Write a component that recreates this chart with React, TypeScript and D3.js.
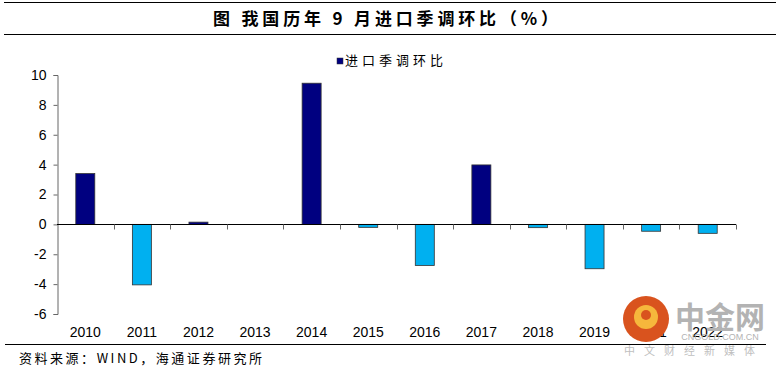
import React, { useEffect, useRef } from "react";
import * as d3 from "d3";

const years = ["2010", "2011", "2012", "2013", "2014", "2015", "2016", "2017", "2018", "2019", "2021", "2022"];
const importMoM = [3.4, -4.05, 0.15, 0, 9.45, -0.2, -2.75, 3.98, -0.22, -2.97, -0.46, -0.6];
const yTicks = [-6, -4, -2, 0, 2, 4, 6, 8, 10];

const cjk = "'Noto Sans CJK SC', sans-serif";
const latin = "'Liberation Sans', Arial, sans-serif";

export default function App() {
  const ref = useRef<SVGSVGElement>(null);

  useEffect(() => {
    const svg = d3.select(ref.current);
    svg.selectAll("*").remove();

    const left = 57, right = 736, top = 75, bottom = 314;

    // header rules and title
    svg.append("line").attr("x1", 4).attr("x2", 776).attr("y1", 2.5).attr("y2", 2.5)
      .attr("stroke", "#000").attr("stroke-width", 1);
    svg.append("line").attr("x1", 4).attr("x2", 776).attr("y1", 34.5).attr("y2", 34.5)
      .attr("stroke", "#000").attr("stroke-width", 1);
    svg.append("text").attr("x", 213).attr("y", 25)
      .attr("textLength", 345).attr("lengthAdjust", "spacing")
      .style("font-family", cjk).style("font-size", "17px").style("font-weight", "bold")
      .text("图 我国历年 9 月进口季调环比（%）");

    const x = d3.scaleBand().domain(years).range([left, right]).paddingInner(0).paddingOuter(0);
    const y = d3.scaleLinear().domain([-6, 10]).range([bottom, top]);
    const barW = 19;

    // bars
    svg.append("g").selectAll("rect").data(importMoM).enter().append("rect")
      .attr("x", (d, i) => x(years[i])! + x.bandwidth() / 2 - barW / 2)
      .attr("y", (d) => y(Math.max(d, 0)))
      .attr("width", barW)
      .attr("height", (d) => Math.abs(y(d) - y(0)))
      .attr("fill", (d) => (d >= 0 ? "#000080" : "#00B0F0"))
      .attr("stroke", (d) => (d === 0 ? "none" : "#333"))
      .attr("stroke-width", 0.8);

    // y axis
    const yAxis = svg.append("g").attr("transform", `translate(${left + 0.5},0)`)
      .call(d3.axisLeft(y).tickValues(yTicks).tickSize(4).tickPadding(7)
        .tickFormat((d) => String(d)));
    yAxis.select(".domain").attr("stroke", "#666");
    yAxis.selectAll(".tick line").attr("stroke", "#666");
    yAxis.selectAll("text").style("font-family", latin).style("font-size", "14px").attr("fill", "#000");

    // zero axis with category ticks
    const zeroY = Math.round(y(0)) + 0.5;
    svg.append("line").attr("x1", left).attr("x2", right).attr("y1", zeroY).attr("y2", zeroY)
      .attr("stroke", "#000").attr("stroke-width", 1);
    const bounds = years.map((yr) => x(yr)! + x.bandwidth());
    svg.append("g").selectAll("line").data(bounds).enter().append("line")
      .attr("x1", (d) => Math.round(d) + 0.5).attr("x2", (d) => Math.round(d) + 0.5)
      .attr("y1", zeroY).attr("y2", zeroY + 5).attr("stroke", "#666");

    // category labels
    svg.append("g").selectAll("text").data(years).enter().append("text")
      .attr("x", (d) => x(d)! + x.bandwidth() / 2).attr("y", 337)
      .attr("text-anchor", "middle")
      .style("font-family", latin).style("font-size", "14px")
      .text((d) => d);

    // legend
    svg.append("rect").attr("x", 337).attr("y", 58).attr("width", 6).attr("height", 6)
      .attr("fill", "#000080").attr("stroke", "#333").attr("stroke-width", 0.5);
    svg.append("text").attr("x", 345).attr("y", 65)
      .attr("textLength", 98).attr("lengthAdjust", "spacing")
      .style("font-family", cjk).style("font-size", "13px").text("进口季调环比");

    // bottom rule and source
    svg.append("line").attr("x1", 5).attr("x2", 766).attr("y1", 344.5).attr("y2", 344.5)
      .attr("stroke", "#000").attr("stroke-width", 1);
    svg.append("text").attr("x", 19).attr("y", 363)
      .attr("textLength", 243).attr("lengthAdjust", "spacing")
      .style("font-family", cjk).style("font-size", "13px").text("资料来源：WIND，海通证券研究所");

    // watermark
    const wm = svg.append("g");
    wm.append("circle").attr("cx", 646).attr("cy", 319).attr("r", 23).attr("fill", "#d9531e");
    wm.append("circle").attr("cx", 646).attr("cy", 317).attr("r", 12).attr("fill", "#f6b73c");
    wm.append("circle").attr("cx", 646).attr("cy", 315).attr("r", 5).attr("fill", "#d9531e");
    wm.append("text").attr("x", 720).attr("y", 328).attr("text-anchor", "middle")
      .style("font-family", cjk).style("font-size", "30px").style("font-weight", "bold")
      .attr("fill", "#b3b3b3").text("中金网");
    wm.append("text").attr("x", 720).attr("y", 340).attr("text-anchor", "middle")
      .style("font-family", latin).style("font-size", "9px").attr("fill", "#b3b3b3")
      .text("CNGOLD.COM.CN");
    wm.append("text").attr("x", 694).attr("y", 355).attr("text-anchor", "middle")
      .style("font-family", cjk).style("font-size", "11px").style("letter-spacing", "9px")
      .attr("fill", "#c0c0c0").text("中文财经新媒体");
  }, []);

  return (
    <div style={{ position: "absolute", left: 0, top: 0 }}>
      <svg ref={ref} width={780} height={369} style={{ display: "block", background: "#fff" }} />
    </div>
  );
}
